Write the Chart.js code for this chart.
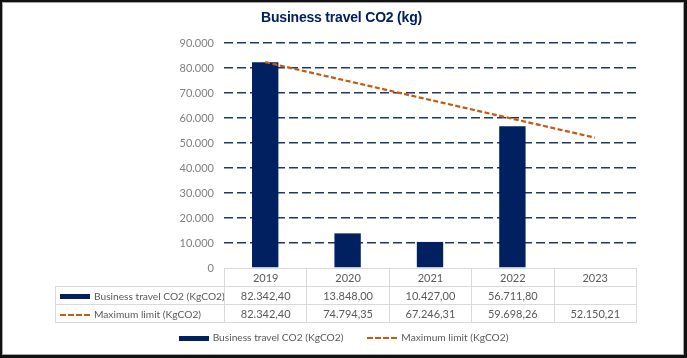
<!DOCTYPE html>
<html>
<head>
<meta charset="utf-8">
<script src="https://cdn.jsdelivr.net/npm/chart.js@4"></script>
<style>
  html, body { margin: 0; padding: 0; background: #fff; }
  #frame {
    position: absolute; left: 0; top: 0; width: 682px; height: 353px;
    border-left: 2px solid #111; border-top: 2px solid #111;
    border-right: 3px solid #111; border-bottom: 3px solid #111;
  }
  #inner { position: absolute; left: 0; top: 0; right: 0; bottom: 0; border: 1px solid #a6a6a6; }
  #myChart { position: absolute; left: 0; top: 0; }
  #title {
    position: absolute; left: 0; top: 9px; width: 683px; text-align: center;
    font-family: "Liberation Sans", Arial, sans-serif; font-size: 14px; font-weight: bold;
    color: #002060; letter-spacing: -0.2px;
  }
  #dataTable {
    position: absolute; border-collapse: collapse; table-layout: fixed;
    font-family: Lato, "Liberation Sans", sans-serif; font-size: 11px; color: #595959;
  }
  #dataTable td { border: 1px solid #d9d9d9; text-align: center; padding: 0; height: 17px; white-space: nowrap; overflow: hidden; }
  #dataTable td.blank { border: none; border-bottom: 1px solid #d9d9d9; }
  #dataTable td.lbl { text-align: left; padding-left: 4px; font-size: 10.2px; }
  .key { display: inline-block; width: 30px; vertical-align: middle; margin-right: 4px; }
  .key.bar { height: 5px; background: #002060; }
  .key.line { height: 0; border-top: 2px dashed #C55A11; }
  #legend {
    position: absolute; top: 331px; left: 0; width: 687px; text-align: center;
    font-family: Lato, "Liberation Sans", sans-serif; font-size: 10.2px; color: #595959;
  }
  #legend span.item { margin: 0 12px; }
</style>
</head>
<body>
<div id="frame"><div id="inner"></div></div>
<canvas id="myChart" width="687" height="358"></canvas>
<div id="title">Business travel CO2 (kg)</div>
<table id="dataTable"></table>
<div id="legend"></div>
<script>
// Dados do gráfico
const years = ['2019', '2020', '2021', '2022', '2023'];
const travelCO2 = [82342.40, 13848.00, 10427.00, 56711.80, null];
const maxLimit = [82342.40, 74794.35, 67246.31, 59698.26, 52150.21];
const yTicks = [0, 10000, 20000, 30000, 40000, 50000, 60000, 70000, 80000, 90000];

const barLabel = 'Business travel CO2 (KgCO2)';
const lineLabel = 'Maximum limit (KgCO2)';

// formato 82.342,40
function fmt(v, dec) {
    if (v === null || v === undefined) return '';
    const parts = v.toFixed(dec).split('.');
    const intPart = parts[0].replace(/\B(?=(\d{3})+(?!\d))/g, '.');
    return dec > 0 ? intPart + ',' + parts[1] : intPart;
}

const ctx = document.getElementById('myChart').getContext('2d');
const chart = new Chart(ctx, {
    type: 'bar',
    data: {
        labels: years,
        datasets: [{
            type: 'line',
            label: lineLabel,
            data: maxLimit,
            borderColor: '#C55A11',
            borderWidth: 2.25,
            borderDash: [5, 2.5],
            pointRadius: 0,
            fill: false,
            tension: 0,
            order: 0
        }, {
            label: barLabel,
            data: travelCO2,
            backgroundColor: '#002060',
            categoryPercentage: 1,
            barPercentage: 0.32,
            order: 1
        }]
    },
    options: {
        responsive: false,
        animation: false,
        layout: { padding: { left: 164, right: 51, top: 43, bottom: 90 } },
        scales: {
            x: { display: false },
            y: {
                min: 0,
                max: 90000,
                afterBuildTicks: (axis) => { axis.ticks = yTicks.map(v => ({ value: v })); },
                afterFit: (axis) => { axis.width = 60; },
                border: { display: false, dash: [9, 4] }, // tracejado da grade
                grid: {
                    color: (c) => c.tick && c.tick.value === 0 ? 'rgba(0,0,0,0)' : '#1F3864',
                    lineWidth: 1.5,
                    tickLength: 0
                },
                ticks: {
                    color: '#7f7f7f',
                    padding: 10,
                    font: { family: 'Lato, "Liberation Sans", sans-serif', size: 11 },
                    callback: (v) => fmt(v, 0)
                }
            }
        },
        plugins: {
            legend: { display: false },
            tooltip: { enabled: false },
            title: { display: false }
        }
    }
});

// Tabela de dados alinhada com as categorias
const area = chart.chartArea;
const tableLeft = 55;
const firstW = Math.round(area.left) - tableLeft;
const colW = (area.right - area.left) / years.length;
const table = document.getElementById('dataTable');
table.style.left = tableLeft + 'px';
table.style.top = Math.round(area.bottom) + 'px';
table.style.width = (firstW + colW * years.length) + 'px';

let html = '<colgroup><col style="width:' + firstW + 'px">';
years.forEach(() => { html += '<col style="width:' + colW + 'px">'; });
html += '</colgroup>';
html += '<tr><td class="blank"></td>';
years.forEach(y => { html += '<td>' + y + '</td>'; });
html += '</tr>';
html += '<tr><td class="lbl"><span class="key bar"></span>' + barLabel + '</td>';
travelCO2.forEach(v => { html += '<td>' + fmt(v, 2) + '</td>'; });
html += '</tr>';
html += '<tr><td class="lbl"><span class="key line"></span>' + lineLabel + '</td>';
maxLimit.forEach(v => { html += '<td>' + fmt(v, 2) + '</td>'; });
html += '</tr>';
table.innerHTML = html;

// Legenda inferior
document.getElementById('legend').innerHTML =
    '<span class="item"><span class="key bar"></span>' + barLabel + '</span>' +
    '<span class="item"><span class="key line"></span>' + lineLabel + '</span>';
</script>
</body>
</html>
